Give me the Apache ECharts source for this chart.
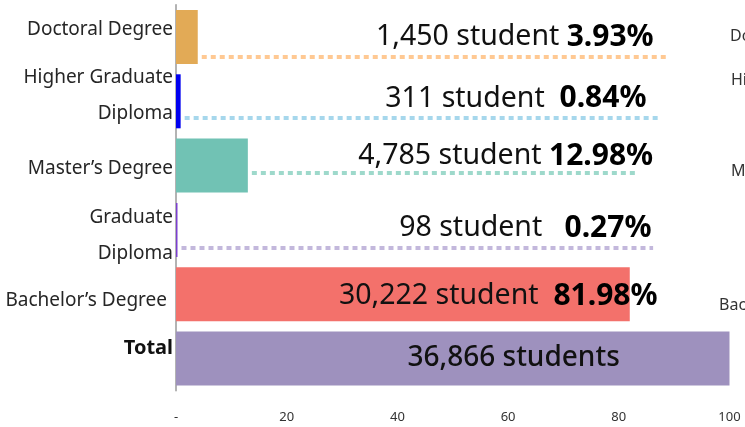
<!DOCTYPE html>
<html><head><meta charset="utf-8">
<script src="https://cdn.jsdelivr.net/npm/echarts@6/dist/echarts.min.js"></script>
<style>html,body{margin:0;padding:0;background:#fff}#c{width:745px;height:427px}</style>
</head><body><div id="c"></div>
<script>
// ---- data ----
const categories = ['Doctoral Degree', 'Higher Graduate\nDiploma', 'Master’s Degree', 'Graduate\nDiploma', 'Bachelor’s Degree', 'Total'];
const percents = [3.93, 0.84, 12.98, 0.27, 81.98, 100];
const students = [1450, 311, 4785, 98, 30222, 36866];
const leaderEnds = [88.7, 87.1, 83.5, 86.2, null, null];
const xTickLabels = ['-', '20', '40', '60', '80', '100'];
const sideLabels = ['Doctoral Degree', 'Higher Graduate Diploma', 'Master’s Degree', 'Bachelor’s Degree'];

// ---- styles / layout ----
const barColors = ['#E2AA56', '#0000F0', '#71C2B4', '#7B3FD0', '#F3716B', '#9E91BE'];
const leaderColors = ['#FFC993', '#A6D7EC', '#9ED9CB', '#C3B8DC'];
const leaderRowY = [0.811, 1.76, 2.615, 3.782];
const labelRowY = [0.50, 1.46, 2.35, 3.47, 4.53, 5.49];
const labelRight = [86.3, 85.0, 86.2, 85.9, 87.0];
const gaps = [' ', '  ', ' ', '   ', '  '];
const catShift = [-7, -6, 3, 6, 6, -10];
const catRightPad = [0, 0, 0, 0, 6, 0];
const FONT = '"Noto Sans", "Open Sans", sans-serif';

const chart = echarts.init(document.getElementById('c'), null, {renderer: 'canvas'});

// rich styles for category labels (spacer lines shift the block up/down)
const catRich = {};
categories.forEach((c, i) => {
  const multi = c.indexOf('\n') >= 0;
  catRich['c' + i] = {
    fontSize: i === 5 ? 20 : 19, fontWeight: i === 5 ? 'bold' : 'normal',
    fontFamily: FONT, color: i === 5 ? '#111' : '#262626',
    lineHeight: multi ? 36 : 26, padding: [0, catRightPad[i], 0, 0]
  };
  catRich['s' + i] = {fontSize: 1, lineHeight: 2 * Math.abs(catShift[i])};
});
function catFormatter(v, idx) {
  let s = v.split('\n').map(l => '{c' + idx + '|' + l + '}').join('\n');
  if (catShift[idx] < 0) s = s + '\n{s' + idx + '| }';
  if (catShift[idx] > 0) s = '{s' + idx + '| }\n' + s;
  return s;
}

chart.setOption({
  animation: false,
  grid: {left: 176, right: 15.5, top: 4.85, bottom: 36.35, containLabel: false},
  xAxis: {
    type: 'value', min: 0, max: 100, interval: 20,
    axisLine: {show: false}, axisTick: {show: false}, splitLine: {show: false},
    axisLabel: {formatter: v => xTickLabels[Math.round(v / 20)], color: '#333', fontSize: 13, fontFamily: FONT, margin: 20}
  },
  yAxis: [{
    type: 'category', data: categories, inverse: true,
    axisLine: {show: true, lineStyle: {color: '#9a9a9a', width: 1.5}},
    axisTick: {show: false},
    axisLabel: {margin: 3, formatter: catFormatter, rich: catRich}
  }, {
    type: 'value', min: 0, max: 6, inverse: true, show: false
  }],
  series: [{
    type: 'bar', barCategoryGap: '16%',
    data: percents.map((v, i) => ({value: v, itemStyle: {color: barColors[i]}})),
    z: 3
  }, {
    type: 'custom', xAxisIndex: 0, yAxisIndex: 1, z: 4,
    data: categories.map((c, i) => [i]),
    encode: {x: -1, y: -1},
    renderItem: (params, api) => {
      const i = api.value(0);
      const children = [];
      if (leaderEnds[i] != null) {
        const p0 = api.coord([percents[i], leaderRowY[i]]);
        const p1 = api.coord([leaderEnds[i], leaderRowY[i]]);
        children.push({
          type: 'line',
          shape: {x1: p0[0] + 4, y1: p0[1], x2: p1[0], y2: p1[1]},
          style: {stroke: leaderColors[i], lineWidth: 4, lineDash: [5, 4]}
        });
      }
      if (i < 5) {
        const p = api.coord([labelRight[i], labelRowY[i]]);
        children.push({
          type: 'text', x: p[0], y: p[1],
          style: {
            text: '{a|' + students[i].toLocaleString('en-US') + ' student' + gaps[i] + '}{b|' + percents[i].toFixed(2) + '%}',
            align: 'right', verticalAlign: 'middle',
            rich: {
              a: {fontSize: 28.5, fontFamily: FONT, fill: '#111', color: '#111'},
              b: {fontSize: 30, fontFamily: FONT, fontWeight: 'bold', fill: '#000', color: '#000'}
            }
          }
        });
      } else {
        const p = api.coord([61, labelRowY[i]]);
        children.push({
          type: 'text', x: p[0], y: p[1],
          style: {
            text: students[i].toLocaleString('en-US') + ' students',
            align: 'center', verticalAlign: 'middle',
            font: '500 28px ' + FONT, fill: '#111'
          }
        });
      }
      return {type: 'group', children};
    }
  }],
  graphic: [
    {type: 'text', left: 730, top: 28, style: {text: sideLabels[0], font: '16px ' + FONT, fill: '#333'}},
    {type: 'text', left: 731, top: 72, style: {text: sideLabels[1], font: '16px ' + FONT, fill: '#333'}},
    {type: 'text', left: 731, top: 163, style: {text: sideLabels[2], font: '16px ' + FONT, fill: '#333'}},
    {type: 'text', left: 719, top: 297, style: {text: sideLabels[3], font: '16px ' + FONT, fill: '#333'}}
  ]
});
</script>
</body></html>
